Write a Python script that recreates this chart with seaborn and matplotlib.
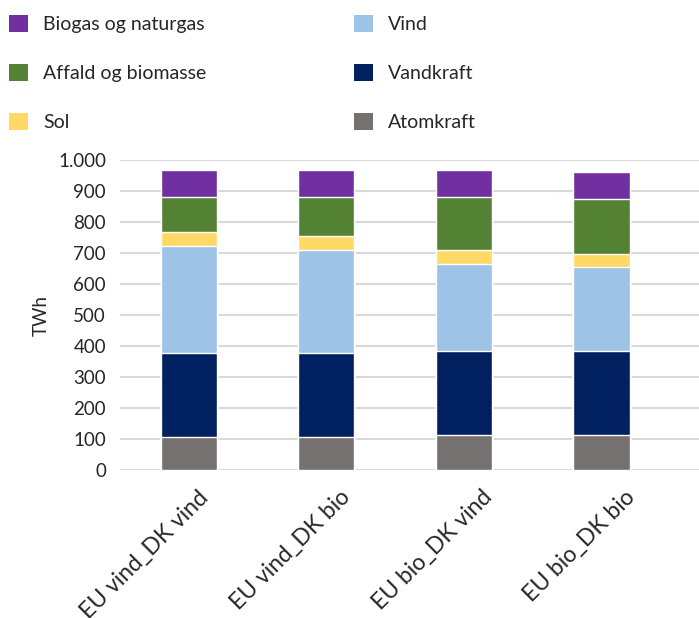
import matplotlib
matplotlib.use("Agg")
import matplotlib.pyplot as plt
import matplotlib.transforms as mtransforms
from matplotlib.patches import Patch
import numpy as np
import pandas as pd
import seaborn as sns

sns.set_theme(style="white")
plt.rcParams["font.family"] = ["Lato", "DejaVu Sans"]

# Data (TWh)
scenarios = ["EU vind_DK vind", "EU vind_DK bio", "EU bio_DK vind", "EU bio_DK bio"]
atomkraft = [107, 107, 113, 113]
vandkraft = [272, 272, 271, 271]
vind = [344, 332, 282, 270]
sol = [45, 44, 45, 44]
affald = [112, 125, 169, 175]
biogas = [88, 88, 88, 88]

# stacking order bottom -> top
layers = [
    ("Atomkraft", atomkraft, "#767171"),
    ("Vandkraft", vandkraft, "#002060"),
    ("Vind", vind, "#9DC3E6"),
    ("Sol", sol, "#FFD966"),
    ("Affald og biomasse", affald, "#548235"),
    ("Biogas og naturgas", biogas, "#7030A0"),
]

df = pd.DataFrame({name: vals for name, vals, _ in layers}, index=scenarios)
cum = df.cumsum(axis=1)

fig = plt.figure(figsize=(6.99, 6.18), dpi=100)
ax = fig.add_axes([120 / 699, 1 - 470 / 618, 1 - 120 / 699, 310 / 618])

# draw cumulative bars from top layer down so lower layers sit on top
for name, _, color in reversed(layers):
    sns.barplot(x=cum.index, y=cum[name].values, color=color, saturation=1,
                width=0.41, ax=ax, zorder=3)

ax.set_ylim(0, 1000)
ax.set_xlim(-0.5, 3.71)
ax.set_yticks(np.arange(0, 1001, 100))
ax.set_yticklabels([f"{v:,}".replace(",", ".") for v in range(0, 1001, 100)],
                   fontsize=13.5, color="#262626")
ax.yaxis.grid(True, color="#D9D9D9", linewidth=1.5, zorder=0)
ax.set_axisbelow(True)
for s in ax.spines.values():
    s.set_visible(False)
ax.tick_params(axis="y", length=0, pad=10)
ax.tick_params(axis="x", length=0, pad=12)
ax.set_ylabel("TWh", fontsize=13.5, color="#262626", labelpad=6)
ax.set_xlabel("")

ax.set_xticks(range(len(scenarios)))
ax.set_xticklabels(scenarios, rotation=45, ha="right", rotation_mode="anchor",
                   fontsize=16.5, color="#262626")
for i, lab in enumerate(ax.get_xticklabels()):
    shift = mtransforms.ScaledTranslation((9 + 4.5 * i) / 100, 0, fig.dpi_scale_trans)
    lab.set_transform(lab.get_transform() + shift)

handles = [Patch(facecolor=c, edgecolor="none", label=n) for n, _, c in reversed(layers)]
fig.legend(handles=handles, loc="upper left", bbox_to_anchor=(-0.012, 1.004),
           ncol=2, frameon=False, fontsize=14, handlelength=0.98, handleheight=0.98,
           handletextpad=0.77, labelspacing=1.58, columnspacing=7.6,
           labelcolor="#262626")

fig.savefig("out.png", dpi=100)
